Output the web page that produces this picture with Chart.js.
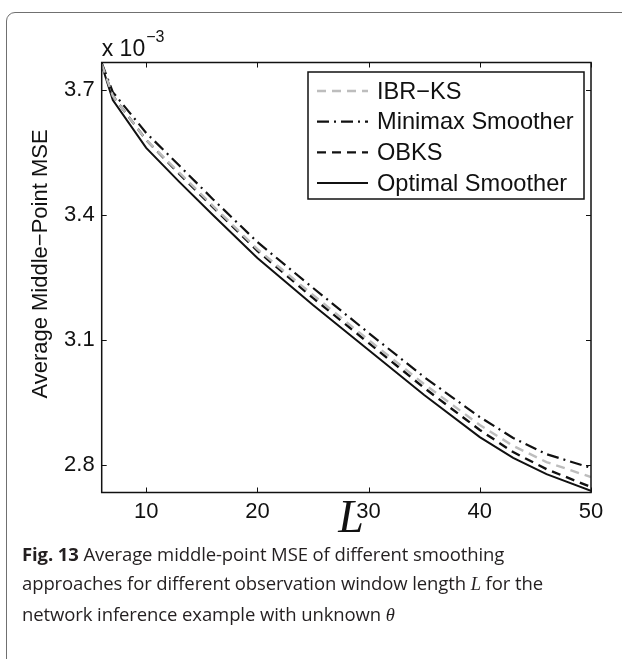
<!DOCTYPE html>
<html>
<head>
<meta charset="utf-8">
<script src="https://cdn.jsdelivr.net/npm/chart.js@4.4.1/dist/chart.umd.min.js"></script>
<style>
	html, body { margin: 0; padding: 0; background: #fff; }
	body { width: 622px; height: 659px; position: relative; overflow: hidden; }
	.frame { position: absolute; left: 6px; top: 12px; width: 660px; height: 700px; border: 1px solid #707070; border-radius: 9px; }
	#chart { position: absolute; left: 0; top: 0; }
	.caption { position: absolute; left: 22px; top: 539px; width: 600px; font-family: "Open Sans", sans-serif; font-size: 18.5px; line-height: 29px; color: #231f20; white-space: nowrap; letter-spacing: -0.1px; }
	.caption b { font-weight: 700; }
	.caption i { font-family: "Liberation Serif", serif; }
</style>
</head>
<body>
<div class="frame"></div>
<canvas id="chart" width="622" height="540"></canvas>
<div class="caption">
	<b>Fig. 13</b> Average middle-point MSE of different smoothing<br>
	approaches for different observation window length <i>L</i> for the<br>
	network inference example with unknown <i>θ</i>
</div>
<script>
// ─── Data (MSE in units of 1e-3) ───────────────
const L_VALUES = [6, 7, 10, 13, 16, 20, 25, 30, 35, 40, 43, 46, 50];
const IBR_KS = [3.762, 3.686, 3.580, 3.501, 3.422, 3.318, 3.208, 3.100, 2.994, 2.896, 2.846, 2.807, 2.771];
const MINIMAX = [3.765, 3.695, 3.597, 3.518, 3.438, 3.335, 3.225, 3.117, 3.011, 2.915, 2.865, 2.826, 2.793];
const OBKS = [3.762, 3.686, 3.580, 3.498, 3.419, 3.314, 3.201, 3.093, 2.985, 2.884, 2.831, 2.790, 2.747];
const OPTIMAL = [3.760, 3.676, 3.561, 3.479, 3.400, 3.297, 3.184, 3.076, 2.968, 2.867, 2.817, 2.778, 2.738];

const SERIES_NAMES = ["IBR\u2212KS", "Minimax Smoother", "OBKS", "Optimal Smoother"];
const X_TICKS = [10, 20, 30, 40, 50];
const Y_TICKS = [2.8, 3.1, 3.4, 3.7];

// ─── Helpers ───────────────────────────────────
const SANS = "'Liberation Sans', Arial, sans-serif";
const toPoints = (vals) => vals.map((v, i) => ({ x: L_VALUES[i], y: v }));

const styles = [
	{ color: "#bdbdbd", width: 2.4, dash: [9, 6] },
	{ color: "#111111", width: 2.2, dash: [12, 5, 2, 5] },
	{ color: "#111111", width: 2.4, dash: [9, 6] },
	{ color: "#111111", width: 2, dash: [] },
];

// box, inward ticks, exponent, y label and legend like the matlab figure
const matlabAxes = {
	id: "matlabAxes",
	afterDatasetsDraw(chart) {
		const { ctx, chartArea: a, scales } = chart;
		ctx.save();
		ctx.strokeStyle = "#111";
		ctx.lineWidth = 1.5;
		ctx.setLineDash([]);
		ctx.strokeRect(a.left, a.top, a.right - a.left, a.bottom - a.top);

		ctx.lineWidth = 1;
		const tl = 5;
		X_TICKS.forEach((v) => {
			const x = Math.round(scales.x.getPixelForValue(v)) + 0.5;
			ctx.beginPath();
			ctx.moveTo(x, a.bottom); ctx.lineTo(x, a.bottom - tl);
			ctx.moveTo(x, a.top); ctx.lineTo(x, a.top + tl);
			ctx.stroke();
		});
		Y_TICKS.forEach((v) => {
			const y = Math.round(scales.y.getPixelForValue(v)) + 0.5;
			ctx.beginPath();
			ctx.moveTo(a.left, y); ctx.lineTo(a.left + tl, y);
			ctx.moveTo(a.right, y); ctx.lineTo(a.right - tl, y);
			ctx.stroke();
		});

		// exponent label
		ctx.fillStyle = "#111";
		ctx.textBaseline = "alphabetic";
		ctx.textAlign = "left";
		ctx.font = "23px " + SANS;
		ctx.fillText("x 10", a.left, 56);
		const w = ctx.measureText("x 10").width;
		ctx.font = "16px " + SANS;
		ctx.fillText("\u22123", a.left + w + 1, 42);

		// y label
		ctx.save();
		ctx.translate(41, 264);
		ctx.rotate(-Math.PI / 2);
		ctx.font = "22px " + SANS;
		ctx.textAlign = "center";
		ctx.textBaseline = "middle";
		ctx.fillText("Average Middle\u2212Point MSE", 0, 0);
		ctx.restore();

		// legend
		const lx = 308, ly = 72, lw = 276, lh = 127;
		ctx.fillStyle = "#fff";
		ctx.fillRect(lx, ly, lw, lh);
		ctx.lineWidth = 1.5;
		ctx.strokeStyle = "#111";
		ctx.strokeRect(lx, ly, lw, lh);
		ctx.font = "23.6px " + SANS;
		ctx.textBaseline = "middle";
		SERIES_NAMES.forEach((name, i) => {
			const y = 91 + i * 30.7;
			const s = styles[i];
			ctx.beginPath();
			ctx.strokeStyle = s.color;
			ctx.lineWidth = s.width;
			ctx.setLineDash(s.dash);
			ctx.moveTo(317, y); ctx.lineTo(368, y);
			ctx.stroke();
			ctx.fillStyle = "#111";
			ctx.fillText(name, 377, y + 1);
		});
		ctx.restore();
	},
};

const datasets = [IBR_KS, MINIMAX, OBKS, OPTIMAL].map((vals, i) => ({
	label: SERIES_NAMES[i],
	data: toPoints(vals),
	borderColor: styles[i].color,
	borderWidth: styles[i].width,
	borderDash: styles[i].dash,
	pointRadius: 0,
	tension: 0,
	fill: false,
}));

new Chart(document.getElementById("chart").getContext("2d"), {
	type: "line",
	data: { datasets },
	options: {
		responsive: false,
		animation: false,
		layout: { padding: { left: 0, right: 31, top: 62.5, bottom: 0 } },
		plugins: { legend: { display: false }, tooltip: { enabled: false } },
		scales: {
			x: {
				type: "linear",
				min: 6,
				max: 50,
				afterBuildTicks: (s) => { s.ticks = X_TICKS.map((v) => ({ value: v })); },
				afterFit: (s) => { s.height = 47.5; },
				grid: { display: false, drawTicks: false },
				border: { display: false },
				ticks: { padding: 6, color: "#111", maxRotation: 0, autoSkip: false, font: { family: SANS, size: 22 } },
				title: {
					display: true,
					text: "\u2009L",
					color: "#111",
					font: { family: "'Liberation Serif', serif", style: "italic", size: 46 },
					padding: { top: 0, bottom: -8 },
				},
			},
			y: {
				min: 2.734,
				max: 3.766,
				afterBuildTicks: (s) => { s.ticks = Y_TICKS.map((v) => ({ value: v })); },
				afterFit: (s) => { s.width = 101.7; },
				grid: { display: false, drawTicks: false },
				border: { display: false },
				ticks: { padding: 7, color: "#111", font: { family: SANS, size: 22 }, callback: (v) => v.toFixed(1) },
			},
		},
	},
	plugins: [matlabAxes],
});
</script>
</body>
</html>
